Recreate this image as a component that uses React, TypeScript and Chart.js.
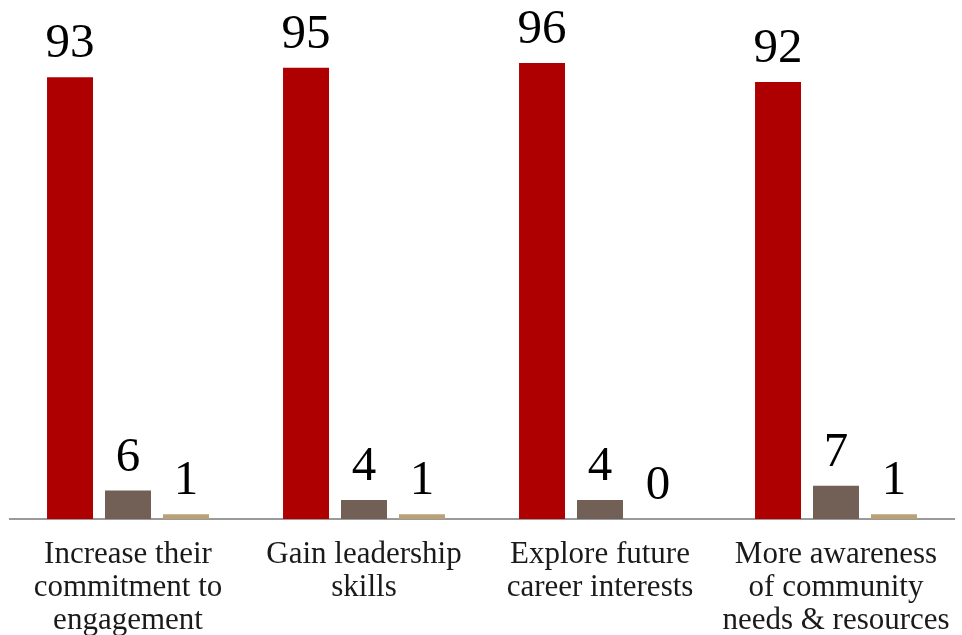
import React, { useEffect, useRef } from "react";
import { Chart, registerables } from "chart.js";

Chart.register(...registerables);

const categories: string[][] = [
  ["Increase their", "commitment to", "engagement"],
  ["Gain leadership", "skills"],
  ["Explore future", "career interests"],
  ["More awareness", "of community", "needs & resources"],
];
const seriesA: number[] = [93, 95, 96, 92];
const seriesB: number[] = [6, 4, 4, 7];
const seriesC: number[] = [1, 1, 0, 1];

const FONT = "'Liberation Serif', 'Times New Roman', serif";

const valueLabels = {
  id: "valueLabels",
  afterDatasetsDraw(chart: any) {
    const ctx = chart.ctx;
    ctx.save();
    ctx.font = `49px ${FONT}`;
    ctx.fillStyle = "#000";
    ctx.textAlign = "center";
    ctx.textBaseline = "alphabetic";
    chart.data.datasets.forEach((ds: any, i: number) => {
      const meta = chart.getDatasetMeta(i);
      meta.data.forEach((el: any, j: number) => {
        ctx.fillText(String(ds.data[j]), el.x, el.y - 20);
      });
    });
    ctx.restore();
  },
};

export default function App() {
  const ref = useRef<HTMLCanvasElement | null>(null);
  useEffect(() => {
    if (!ref.current) return;
    const chart = new Chart(ref.current, {
      type: "bar",
      data: {
        labels: categories,
        datasets: [
          { data: seriesA, backgroundColor: "#ae0000" },
          { data: seriesB, backgroundColor: "#725f55" },
          { data: seriesC, backgroundColor: "#b9a077" },
        ],
      },
      options: {
        animation: false,
        responsive: false,
        maintainAspectRatio: false,
        layout: { padding: { left: 10, right: 8, top: 44, bottom: 0 } },
        plugins: { legend: { display: false }, tooltip: { enabled: false } },
        datasets: {
          bar: { barPercentage: 0.793, categoryPercentage: 0.737 },
        },
        scales: {
          y: { display: false, min: 0, max: 100 },
          x: {
            grid: { display: false, drawTicks: false },
            border: { display: true, color: "#9a9a9a", width: 2 },
            afterFit: (scale: any) => {
              scale.height = 116;
              scale.paddingLeft = 0;
              scale.paddingRight = 0;
            },
            ticks: {
              color: "#1a1a1a",
              font: { family: FONT, size: 31, lineHeight: 1.05 },
              padding: 20,
              maxRotation: 0,
              minRotation: 0,
              autoSkip: false,
            },
          },
        },
      },
      plugins: [valueLabels],
    });
    return () => chart.destroy();
  }, []);
  return (
    <div style={{ position: "fixed", left: 0, top: 0, width: 962, height: 635, background: "#fff" }}>
      <canvas ref={ref} width={962} height={635} style={{ width: 962, height: 635 }} />
    </div>
  );
}
